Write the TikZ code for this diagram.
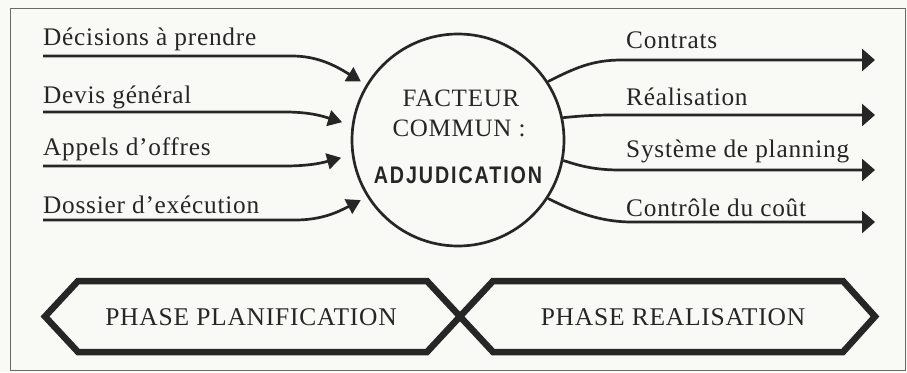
\documentclass[tikz,border=0pt]{standalone}
\usepackage{fontspec}
\setmainfont{Liberation Serif}
\newfontfamily\lblfont{Liberation Serif}[LetterSpace=3]
\newfontfamily\adjfont{Liberation Sans}[FakeStretch=0.82,LetterSpace=8]
\usetikzlibrary{arrows.meta}
\definecolor{paper}{HTML}{F9F9F5}
\definecolor{ink}{HTML}{262626}
\definecolor{framec}{HTML}{6A6A6A}
\tikzset{
  lbl/.style={anchor=base west,inner sep=0pt,text=ink,font=\lblfont\fontsize{25.3}{28}\selectfont},
  ctr/.style={anchor=base,inner sep=0pt,text=ink,font=\lblfont\fontsize{25}{27}\selectfont},
  inflow/.style={draw=ink,line width=2.7pt,-{Triangle[length=14pt,width=16pt]}},
  outflow/.style={draw=ink,line width=2.7pt,-{Triangle[length=13pt,width=22pt]}},
  phasebox/.style={draw=ink,line width=6.5pt,line join=miter},
  phasetxt/.style={anchor=base,inner sep=0pt,text=ink,font=\lblfont\fontsize{25.5}{28}\selectfont},
}
\begin{document}
\begin{tikzpicture}[x=1pt,y=-1pt]
\fill[paper] (0,0) rectangle (907,372);
\useasboundingbox (0,0) rectangle (907,372);
\draw[framec,line width=1pt] (10,8) rectangle (905,370);

% central factor
\node[circle,draw=ink,line width=2.7pt,minimum size=212pt,inner sep=0pt] (fc) at (458,140) {};
\node[ctr] (t1) at (461,106) {FACTEUR};
\node[ctr] (t2) at (459,136) {COMMUN :};
\node[anchor=base,inner sep=0pt,text=ink,font=\adjfont\bfseries\fontsize{24}{26}\selectfont] (t3) at (458,183) {ADJUDICATION};

% inputs
\node[lbl] (l1) at (43,45) {Décisions à prendre};
\node[lbl] (l2) at (43,103) {Devis général};
\node[lbl] (l3) at (43,155) {Appels d’offres};
\node[lbl] (l4) at (43,213) {Dossier d’exécution};
\coordinate (s1) at (43,56);
\coordinate (s2) at (43,112);
\coordinate (s3) at (43,166);
\coordinate (s4) at (43,220);
\draw[inflow,shorten >=6pt] (s1) -- (292,56) .. controls (318,56) and (336,66) .. (fc.149);
\draw[inflow,shorten >=10pt] (s2) -- (285,112) .. controls (312,112) and (325,117) .. (fc.172);
\draw[inflow,shorten >=11pt] (s3) -- (285,166) .. controls (312,166) and (325,162) .. (fc.188);
\draw[inflow,shorten >=7pt] (s4) -- (295,220) .. controls (322,220) and (338,212) .. (fc.212);

% outputs
\node[lbl] (r1) at (626,48) {Contrats};
\node[lbl] (r2) at (626,105) {Réalisation};
\node[lbl] (r3) at (626,157) {Système de planning};
\node[lbl] (r4) at (626,216) {Contrôle du coût};
\coordinate (e1) at (875,60);
\coordinate (e2) at (875,115);
\coordinate (e3) at (875,170);
\coordinate (e4) at (875,222);
\draw[outflow] (fc.33) .. controls (575,68) and (592,60) .. (622,60) -- (e1);
\draw[outflow] (fc.12) .. controls (580,116) and (592,115) .. (615,115) -- (e2);
\draw[outflow] (fc.-11) .. controls (580,166) and (595,170) .. (620,170) -- (e3);
\draw[outflow] (fc.-33) .. controls (575,212) and (600,222) .. (632,222) -- (e4);

% phases
\draw[phasebox] (45,316.5) -- (78,281) -- (427,281) -- (460,316.5) -- (427,352) -- (78,352) -- cycle;
\draw[phasebox] (460,316.5) -- (493,281) -- (843,281) -- (875,316.5) -- (843,352) -- (493,352) -- cycle;
\node[phasetxt] (p1) at (251,325) {PHASE PLANIFICATION};
\node[phasetxt] (p2) at (673,325) {PHASE REALISATION};
\end{tikzpicture}
\end{document}
